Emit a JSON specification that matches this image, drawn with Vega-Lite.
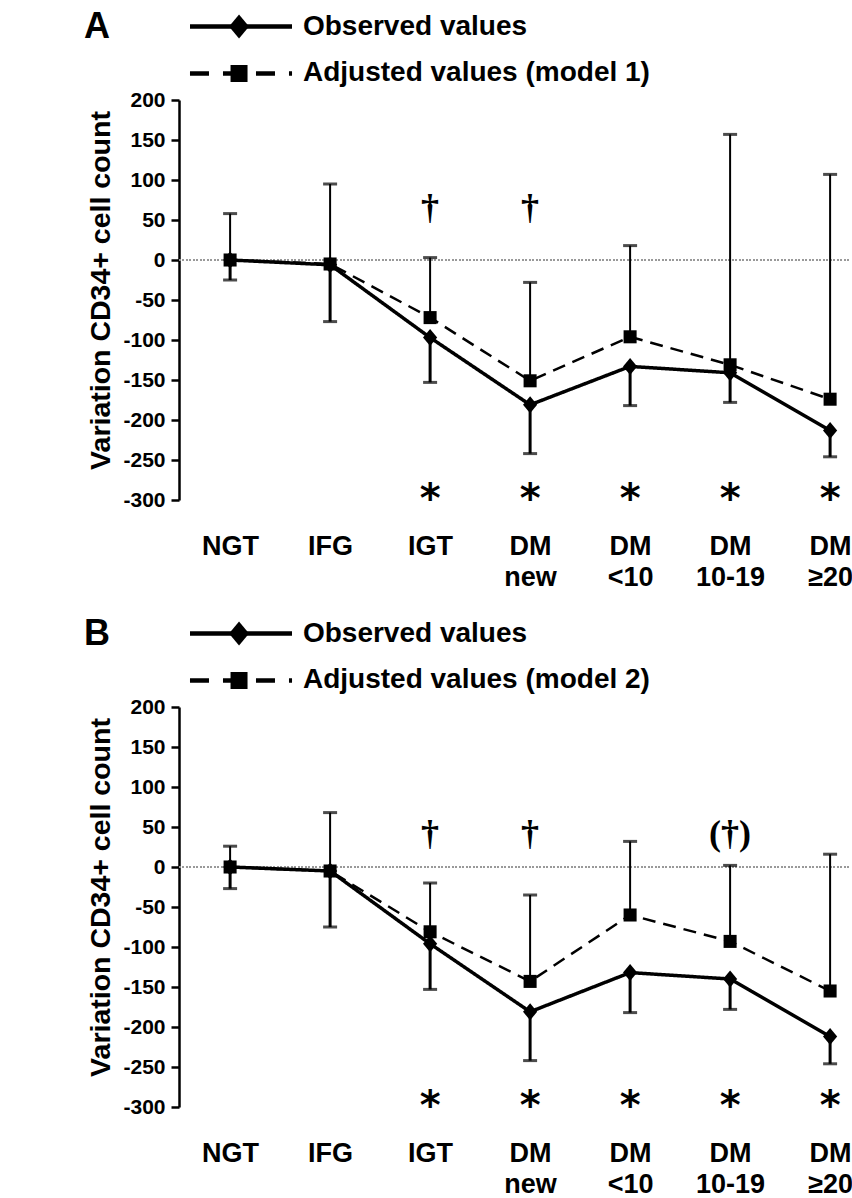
{
  "$schema": "https://vega.github.io/schema/vega-lite/v6.json",
  "background": "white",
  "padding": {"left": 83, "top": 0, "right": 0, "bottom": 0},
  "bounds": "flush",
  "spacing": 0,
  "config": {
    "view": {"stroke": null},
    "font": "Liberation Sans",
    "axisY": {"grid": false, "tickCount": 12, "labelOverlap": false, "domainColor": "black", "domainWidth": 2.5, "tickColor": "black", "tickWidth": 2.5, "tickSize": 8, "labelFontSize": 21, "labelFontWeight": "bold", "labelColor": "black", "labelPadding": 6, "titleFontSize": 28.5, "titleFontWeight": "bold", "titleColor": "black"},
    "axisX": {"domain": false, "ticks": false, "tickSize": 0, "labelAngle": 0, "labelFontSize": 27, "labelFontWeight": "bold", "labelColor": "black", "labelPadding": 33, "labelLineHeight": 31, "labelOverlap": false, "labelBound": false, "grid": false}
  },
  "datasets": {
    "legendA": [
      {"series": "Observed values"},
      {"series": "Adjusted values (model 1)"}
    ],
    "legendB": [
      {"series": "Observed values"},
      {"series": "Adjusted values (model 2)"}
    ],
    "panelA": [{"panel": "A"}],
    "panelB": [{"panel": "B"}],
    "blank": [{"t": ""}],
    "plotA": [
      {"group": "NGT", "series": "Observed", "value": 0, "bar": -25},
      {"group": "NGT", "series": "Adjusted", "value": 0, "bar": 58},
      {"group": "IFG", "series": "Observed", "value": -6, "bar": -77},
      {"group": "IFG", "series": "Adjusted", "value": -5, "bar": 95},
      {"group": "IGT", "series": "Observed", "value": -97, "bar": -153},
      {"group": "IGT", "series": "Adjusted", "value": -72, "bar": 3},
      {"group": "DM new", "series": "Observed", "value": -181, "bar": -242},
      {"group": "DM new", "series": "Adjusted", "value": -151, "bar": -28},
      {"group": "DM <10", "series": "Observed", "value": -133, "bar": -182},
      {"group": "DM <10", "series": "Adjusted", "value": -96, "bar": 18},
      {"group": "DM 10-19", "series": "Observed", "value": -141, "bar": -178},
      {"group": "DM 10-19", "series": "Adjusted", "value": -131, "bar": 157},
      {"group": "DM ≥20", "series": "Observed", "value": -213, "bar": -246},
      {"group": "DM ≥20", "series": "Adjusted", "value": -174, "bar": 107}
    ],
    "plotB": [
      {"group": "NGT", "series": "Observed", "value": 0, "bar": -27},
      {"group": "NGT", "series": "Adjusted", "value": 0, "bar": 26},
      {"group": "IFG", "series": "Observed", "value": -5, "bar": -75},
      {"group": "IFG", "series": "Adjusted", "value": -5, "bar": 68},
      {"group": "IGT", "series": "Observed", "value": -96, "bar": -153},
      {"group": "IGT", "series": "Adjusted", "value": -81, "bar": -20},
      {"group": "DM new", "series": "Observed", "value": -181, "bar": -242},
      {"group": "DM new", "series": "Adjusted", "value": -143, "bar": -35},
      {"group": "DM <10", "series": "Observed", "value": -132, "bar": -182},
      {"group": "DM <10", "series": "Adjusted", "value": -60, "bar": 32},
      {"group": "DM 10-19", "series": "Observed", "value": -140, "bar": -178},
      {"group": "DM 10-19", "series": "Adjusted", "value": -93, "bar": 2},
      {"group": "DM ≥20", "series": "Observed", "value": -212, "bar": -246},
      {"group": "DM ≥20", "series": "Adjusted", "value": -155, "bar": 16}
    ],
    "notesA": [
      {"group": "IGT", "kind": "star", "label": "*", "at": -287},
      {"group": "DM new", "kind": "star", "label": "*", "at": -287},
      {"group": "DM <10", "kind": "star", "label": "*", "at": -287},
      {"group": "DM 10-19", "kind": "star", "label": "*", "at": -287},
      {"group": "DM ≥20", "kind": "star", "label": "*", "at": -287},
      {"group": "IGT", "kind": "dagger", "label": "†", "at": 64},
      {"group": "DM new", "kind": "dagger", "label": "†", "at": 64}
    ],
    "notesB": [
      {"group": "IGT", "kind": "star", "label": "*", "at": -287},
      {"group": "DM new", "kind": "star", "label": "*", "at": -287},
      {"group": "DM <10", "kind": "star", "label": "*", "at": -287},
      {"group": "DM 10-19", "kind": "star", "label": "*", "at": -287},
      {"group": "DM ≥20", "kind": "star", "label": "*", "at": -287},
      {"group": "IGT", "kind": "dagger", "label": "†", "at": 40},
      {"group": "DM new", "kind": "dagger", "label": "†", "at": 40},
      {"group": "DM 10-19", "kind": "dagger", "label": "(†)", "at": 40}
    ]
  },
  "vconcat": [
    {
      "width": 670,
      "height": 100,
      "data": {"name": "legendA"},
      "layer": [
        {
          "mark": {"type": "rule", "color": "black", "strokeWidth": 4.5},
          "encoding": {
            "x": {"datum": 1.64, "type": "quantitative", "scale": {"domain": [0, 100], "nice": false, "zero": false}, "axis": null},
            "x2": {"datum": 16.87},
            "y": {"field": "series", "type": "nominal", "scale": {"type": "point", "domain": ["Observed values", "Adjusted values (model 1)"], "padding": 0.564}, "axis": null},
            "strokeDash": {"condition": {"test": "datum.series === 'Observed values'", "value": [1, 0]}, "value": [19, 14]}
          }
        },
        {
          "mark": {"type": "point", "filled": true, "color": "black", "opacity": 1},
          "encoding": {
            "x": {"datum": 8.96, "type": "quantitative"},
            "y": {"field": "series", "type": "nominal"},
            "shape": {"condition": {"test": "datum.series === 'Observed values'", "value": "M0,-1.2L1,0L0,1.2L-1,0Z"}, "value": "square"},
            "size": {"condition": {"test": "datum.series === 'Observed values'", "value": 400}, "value": 289}
          }
        },
        {
          "mark": {"type": "text", "align": "left", "baseline": "middle", "fontSize": 28, "fontWeight": "bold", "color": "black"},
          "encoding": {
            "x": {"datum": 18.5, "type": "quantitative"},
            "y": {"field": "series", "type": "nominal"},
            "text": {"field": "series"}
          }
        },
        {
          "data": {"name": "panelA"},
          "mark": {"type": "text", "align": "center", "baseline": "middle", "fontSize": 36, "fontWeight": "bold", "color": "black"},
          "encoding": {
            "x": {"datum": -12.24, "type": "quantitative"},
            "y": {"datum": "Observed values", "type": "nominal"},
            "text": {"field": "panel"}
          }
        }
      ]
    },
    {
      "width": 670,
      "height": 400,
      "data": {"name": "plotA"},
      "layer": [
        {
          "mark": {"type": "rule", "color": "#999999", "strokeWidth": 1, "strokeDash": [1.5, 2]},
          "encoding": {"y": {"datum": 0, "type": "quantitative", "scale": {"domain": [-300, 200], "nice": false, "zero": false}, "axis": {"values": [-300, -250, -200, -150, -100, -50, 0, 50, 100, 150, 200], "tickCount": 12, "labelExpr": "datum.value < 0 ? '-' + (-datum.value) : '' + datum.value", "title": "Variation CD34+ cell count", "titleX": -64, "titleY": 190}}}
        },
        {
          "mark": {"type": "rule", "color": "black"},
          "encoding": {
            "x": {"field": "group", "type": "nominal", "sort": null,
              "scale": {"type": "point", "domain": ["NGT", "IFG", "IGT", "DM new", "DM <10", "DM 10-19", "DM ≥20"], "padding": 0.35, "align": 0.73},
              "axis": {"title": null, "labelExpr": "split(datum.value, ' ')"}},
            "y": {"field": "value", "type": "quantitative", "axis": {"values": [-300, -250, -200, -150, -100, -50, 0, 50, 100, 150, 200], "tickCount": 12, "labelExpr": "datum.value < 0 ? '-' + (-datum.value) : '' + datum.value", "title": "Variation CD34+ cell count", "titleX": -64, "titleY": 190}},
            "y2": {"field": "bar"},
            "strokeWidth": {"condition": {"test": "datum.series === 'Observed'", "value": 3}, "value": 2}
          }
        },
        {
          "mark": {"type": "tick", "color": "black", "orient": "horizontal", "size": 14, "thickness": 3},
          "encoding": {
            "x": {"field": "group", "type": "nominal", "axis": {"title": null, "labelExpr": "split(datum.value, ' ')"}},
            "y": {"field": "bar", "type": "quantitative", "axis": {"values": [-300, -250, -200, -150, -100, -50, 0, 50, 100, 150, 200], "tickCount": 12, "labelExpr": "datum.value < 0 ? '-' + (-datum.value) : '' + datum.value", "title": "Variation CD34+ cell count", "titleX": -64, "titleY": 190}}
          }
        },
        {
          "mark": {"type": "line", "color": "black"},
          "encoding": {
            "x": {"field": "group", "type": "nominal", "axis": {"title": null, "labelExpr": "split(datum.value, ' ')"}},
            "y": {"field": "value", "type": "quantitative", "axis": {"values": [-300, -250, -200, -150, -100, -50, 0, 50, 100, 150, 200], "tickCount": 12, "labelExpr": "datum.value < 0 ? '-' + (-datum.value) : '' + datum.value", "title": "Variation CD34+ cell count", "titleX": -64, "titleY": 190}},
            "detail": {"field": "series"},
            "strokeWidth": {"condition": {"test": "datum.series === 'Observed'", "value": 3.5}, "value": 2.5},
            "strokeDash": {"condition": {"test": "datum.series === 'Observed'", "value": [1, 0]}, "value": [13, 8]}
          }
        },
        {
          "mark": {"type": "point", "filled": true, "color": "black", "opacity": 1},
          "encoding": {
            "x": {"field": "group", "type": "nominal", "axis": {"title": null, "labelExpr": "split(datum.value, ' ')"}},
            "y": {"field": "value", "type": "quantitative", "axis": {"values": [-300, -250, -200, -150, -100, -50, 0, 50, 100, 150, 200], "tickCount": 12, "labelExpr": "datum.value < 0 ? '-' + (-datum.value) : '' + datum.value", "title": "Variation CD34+ cell count", "titleX": -64, "titleY": 190}},
            "shape": {"condition": {"test": "datum.series === 'Observed'", "value": "M0,-1.2L1,0L0,1.2L-1,0Z"}, "value": "square"},
            "size": {"condition": {"test": "datum.series === 'Observed'", "value": 200}, "value": 170}
          }
        },
        {
          "data": {"name": "notesA"},
          "transform": [{"filter": "datum.kind === 'star'"}],
          "mark": {"type": "text", "font": "DejaVu Sans", "fontWeight": "bold", "fontSize": 40, "baseline": "alphabetic", "dy": 22, "color": "black"},
          "encoding": {
            "x": {"field": "group", "type": "nominal", "axis": {"title": null, "labelExpr": "split(datum.value, ' ')"}},
            "y": {"field": "at", "type": "quantitative", "axis": {"values": [-300, -250, -200, -150, -100, -50, 0, 50, 100, 150, 200], "tickCount": 12, "labelExpr": "datum.value < 0 ? '-' + (-datum.value) : '' + datum.value", "title": "Variation CD34+ cell count", "titleX": -64, "titleY": 190}},
            "text": {"field": "label"}
          }
        },
        {
          "data": {"name": "notesA"},
          "transform": [{"filter": "datum.kind === 'dagger'"}],
          "mark": {"type": "text", "font": "Liberation Serif", "fontWeight": "bold", "fontSize": 36, "baseline": "alphabetic", "dy": 10, "color": "black"},
          "encoding": {
            "x": {"field": "group", "type": "nominal", "axis": {"title": null, "labelExpr": "split(datum.value, ' ')"}},
            "y": {"field": "at", "type": "quantitative", "axis": {"values": [-300, -250, -200, -150, -100, -50, 0, 50, 100, 150, 200], "tickCount": 12, "labelExpr": "datum.value < 0 ? '-' + (-datum.value) : '' + datum.value", "title": "Variation CD34+ cell count", "titleX": -64, "titleY": 190}},
            "text": {"field": "label"}
          }
        }
      ]
    },
    {
      "width": 670,
      "height": 107,
      "data": {"name": "blank"},
      "mark": {"type": "text"},
      "encoding": {"text": {"field": "t"}}
    },
    {
      "width": 670,
      "height": 100,
      "data": {"name": "legendB"},
      "layer": [
        {
          "mark": {"type": "rule", "color": "black", "strokeWidth": 4.5},
          "encoding": {
            "x": {"datum": 1.64, "type": "quantitative", "scale": {"domain": [0, 100], "nice": false, "zero": false}, "axis": null},
            "x2": {"datum": 16.87},
            "y": {"field": "series", "type": "nominal", "scale": {"type": "point", "domain": ["Observed values", "Adjusted values (model 2)"], "padding": 0.564}, "axis": null},
            "strokeDash": {"condition": {"test": "datum.series === 'Observed values'", "value": [1, 0]}, "value": [19, 14]}
          }
        },
        {
          "mark": {"type": "point", "filled": true, "color": "black", "opacity": 1},
          "encoding": {
            "x": {"datum": 8.96, "type": "quantitative"},
            "y": {"field": "series", "type": "nominal"},
            "shape": {"condition": {"test": "datum.series === 'Observed values'", "value": "M0,-1.2L1,0L0,1.2L-1,0Z"}, "value": "square"},
            "size": {"condition": {"test": "datum.series === 'Observed values'", "value": 400}, "value": 289}
          }
        },
        {
          "mark": {"type": "text", "align": "left", "baseline": "middle", "fontSize": 28, "fontWeight": "bold", "color": "black"},
          "encoding": {
            "x": {"datum": 18.5, "type": "quantitative"},
            "y": {"field": "series", "type": "nominal"},
            "text": {"field": "series"}
          }
        },
        {
          "data": {"name": "panelB"},
          "mark": {"type": "text", "align": "center", "baseline": "middle", "fontSize": 36, "fontWeight": "bold", "color": "black"},
          "encoding": {
            "x": {"datum": -12.24, "type": "quantitative"},
            "y": {"datum": "Observed values", "type": "nominal"},
            "text": {"field": "panel"}
          }
        }
      ]
    },
    {
      "width": 670,
      "height": 400,
      "data": {"name": "plotB"},
      "layer": [
        {
          "mark": {"type": "rule", "color": "#999999", "strokeWidth": 1, "strokeDash": [1.5, 2]},
          "encoding": {"y": {"datum": 0, "type": "quantitative", "scale": {"domain": [-300, 200], "nice": false, "zero": false}, "axis": {"values": [-300, -250, -200, -150, -100, -50, 0, 50, 100, 150, 200], "tickCount": 12, "labelExpr": "datum.value < 0 ? '-' + (-datum.value) : '' + datum.value", "title": "Variation CD34+ cell count", "titleX": -64, "titleY": 190}}}
        },
        {
          "mark": {"type": "rule", "color": "black"},
          "encoding": {
            "x": {"field": "group", "type": "nominal", "sort": null,
              "scale": {"type": "point", "domain": ["NGT", "IFG", "IGT", "DM new", "DM <10", "DM 10-19", "DM ≥20"], "padding": 0.35, "align": 0.73},
              "axis": {"title": null, "labelExpr": "split(datum.value, ' ')"}},
            "y": {"field": "value", "type": "quantitative", "axis": {"values": [-300, -250, -200, -150, -100, -50, 0, 50, 100, 150, 200], "tickCount": 12, "labelExpr": "datum.value < 0 ? '-' + (-datum.value) : '' + datum.value", "title": "Variation CD34+ cell count", "titleX": -64, "titleY": 190}},
            "y2": {"field": "bar"},
            "strokeWidth": {"condition": {"test": "datum.series === 'Observed'", "value": 3}, "value": 2}
          }
        },
        {
          "mark": {"type": "tick", "color": "black", "orient": "horizontal", "size": 14, "thickness": 3},
          "encoding": {
            "x": {"field": "group", "type": "nominal", "axis": {"title": null, "labelExpr": "split(datum.value, ' ')"}},
            "y": {"field": "bar", "type": "quantitative", "axis": {"values": [-300, -250, -200, -150, -100, -50, 0, 50, 100, 150, 200], "tickCount": 12, "labelExpr": "datum.value < 0 ? '-' + (-datum.value) : '' + datum.value", "title": "Variation CD34+ cell count", "titleX": -64, "titleY": 190}}
          }
        },
        {
          "mark": {"type": "line", "color": "black"},
          "encoding": {
            "x": {"field": "group", "type": "nominal", "axis": {"title": null, "labelExpr": "split(datum.value, ' ')"}},
            "y": {"field": "value", "type": "quantitative", "axis": {"values": [-300, -250, -200, -150, -100, -50, 0, 50, 100, 150, 200], "tickCount": 12, "labelExpr": "datum.value < 0 ? '-' + (-datum.value) : '' + datum.value", "title": "Variation CD34+ cell count", "titleX": -64, "titleY": 190}},
            "detail": {"field": "series"},
            "strokeWidth": {"condition": {"test": "datum.series === 'Observed'", "value": 3.5}, "value": 2.5},
            "strokeDash": {"condition": {"test": "datum.series === 'Observed'", "value": [1, 0]}, "value": [13, 8]}
          }
        },
        {
          "mark": {"type": "point", "filled": true, "color": "black", "opacity": 1},
          "encoding": {
            "x": {"field": "group", "type": "nominal", "axis": {"title": null, "labelExpr": "split(datum.value, ' ')"}},
            "y": {"field": "value", "type": "quantitative", "axis": {"values": [-300, -250, -200, -150, -100, -50, 0, 50, 100, 150, 200], "tickCount": 12, "labelExpr": "datum.value < 0 ? '-' + (-datum.value) : '' + datum.value", "title": "Variation CD34+ cell count", "titleX": -64, "titleY": 190}},
            "shape": {"condition": {"test": "datum.series === 'Observed'", "value": "M0,-1.2L1,0L0,1.2L-1,0Z"}, "value": "square"},
            "size": {"condition": {"test": "datum.series === 'Observed'", "value": 200}, "value": 170}
          }
        },
        {
          "data": {"name": "notesB"},
          "transform": [{"filter": "datum.kind === 'star'"}],
          "mark": {"type": "text", "font": "DejaVu Sans", "fontWeight": "bold", "fontSize": 40, "baseline": "alphabetic", "dy": 22, "color": "black"},
          "encoding": {
            "x": {"field": "group", "type": "nominal", "axis": {"title": null, "labelExpr": "split(datum.value, ' ')"}},
            "y": {"field": "at", "type": "quantitative", "axis": {"values": [-300, -250, -200, -150, -100, -50, 0, 50, 100, 150, 200], "tickCount": 12, "labelExpr": "datum.value < 0 ? '-' + (-datum.value) : '' + datum.value", "title": "Variation CD34+ cell count", "titleX": -64, "titleY": 190}},
            "text": {"field": "label"}
          }
        },
        {
          "data": {"name": "notesB"},
          "transform": [{"filter": "datum.kind === 'dagger'"}],
          "mark": {"type": "text", "font": "Liberation Serif", "fontWeight": "bold", "fontSize": 36, "baseline": "alphabetic", "dy": 10, "color": "black"},
          "encoding": {
            "x": {"field": "group", "type": "nominal", "axis": {"title": null, "labelExpr": "split(datum.value, ' ')"}},
            "y": {"field": "at", "type": "quantitative", "axis": {"values": [-300, -250, -200, -150, -100, -50, 0, 50, 100, 150, 200], "tickCount": 12, "labelExpr": "datum.value < 0 ? '-' + (-datum.value) : '' + datum.value", "title": "Variation CD34+ cell count", "titleX": -64, "titleY": 190}},
            "text": {"field": "label"}
          }
        }
      ]
    }
  ]
}
